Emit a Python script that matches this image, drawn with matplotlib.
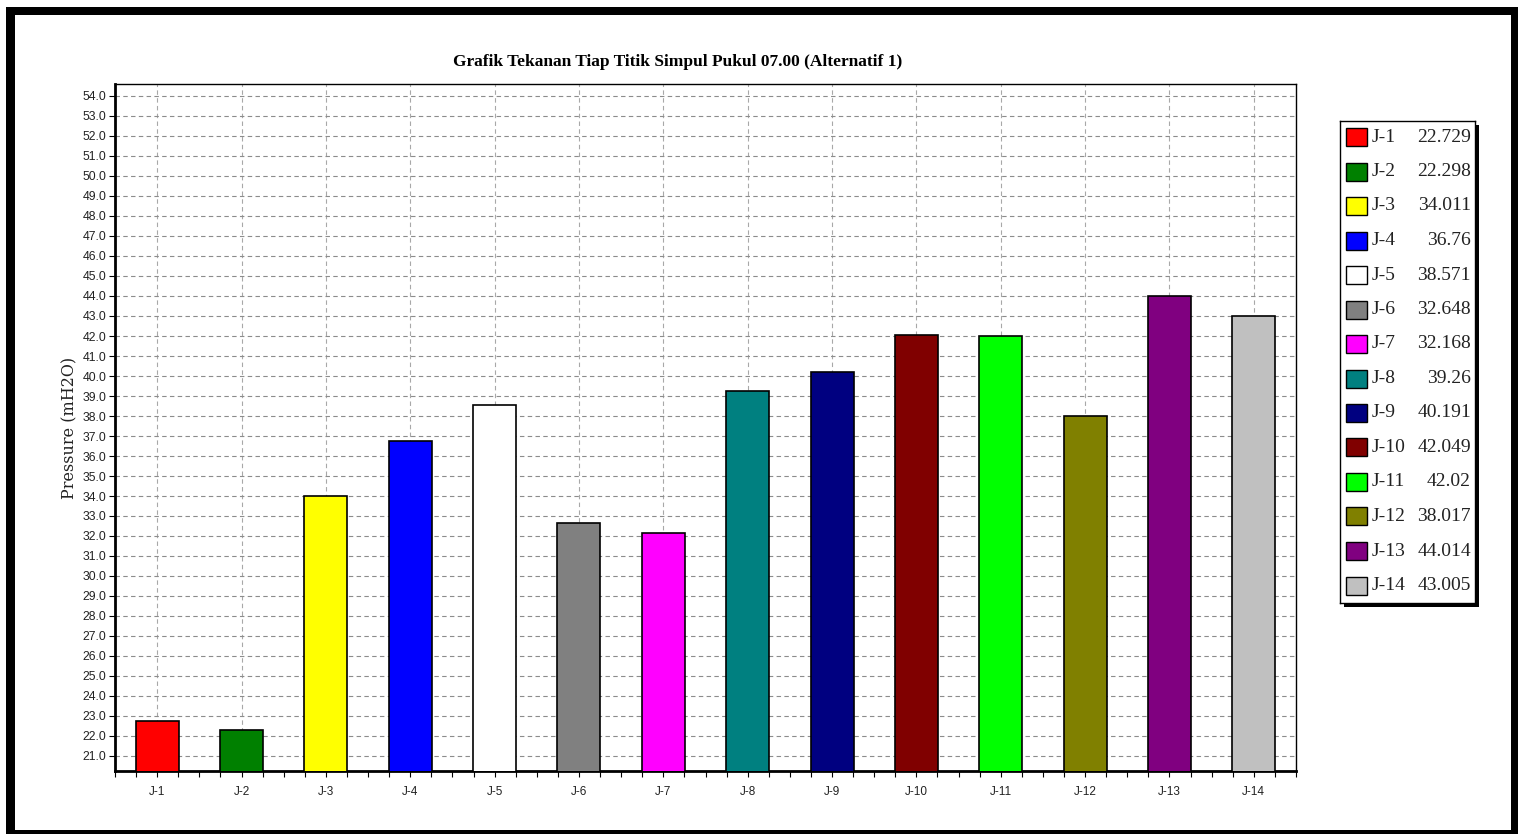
import matplotlib
matplotlib.use("Agg")
import matplotlib.pyplot as plt
from matplotlib.patches import Rectangle
from matplotlib.ticker import MultipleLocator, FormatStrFormatter

W, H = 1518, 834

junctions = ["J-1", "J-2", "J-3", "J-4", "J-5", "J-6", "J-7",
             "J-8", "J-9", "J-10", "J-11", "J-12", "J-13", "J-14"]
pressure = [22.729, 22.298, 34.011, 36.76, 38.571, 32.648, 32.168,
            39.26, 40.191, 42.049, 42.02, 38.017, 44.014, 43.005]
colors = ["#ff0000", "#008000", "#ffff00", "#0000ff", "#ffffff", "#808080", "#ff00ff",
          "#008080", "#000080", "#800000", "#00ff00", "#808000", "#800080", "#c0c0c0"]

fig = plt.figure(figsize=(W / 100, H / 100), dpi=100)
fig.patch.set_facecolor("white")


def px(x0, y0, w, h):
    # pixel box (top-left origin) -> figure fraction rect
    return [x0 / W, 1 - (y0 + h) / H, w / W, h / H]


# outer window frame
for x0, y0, w, h in [(6, 7, W - 6, 8), (6, 7, 9, H - 7), (1511, 7, 7, H - 7), (6, 830, W - 6, 4)]:
    r = px(x0, y0, w, h)
    fig.patches.append(Rectangle((r[0], r[1]), r[2], r[3], transform=fig.transFigure,
                                 facecolor="black", edgecolor="none", zorder=5))

ax = fig.add_axes(px(115, 84, 1181, 687))
x = list(range(len(junctions)))
ax.bar(x, pressure, width=0.51, color=colors, edgecolor="black", linewidth=1.2, zorder=3)

ax.set_xlim(-0.5, len(junctions) - 0.5)
ax.set_ylim(20.25, 54.6)
ax.set_xticks(x)
ax.set_xticklabels(junctions, fontsize=8.5, family="Liberation Sans", color="#222222")
ax.xaxis.set_minor_locator(MultipleLocator(0.25))
ax.set_yticks(list(range(21, 55)))
ax.yaxis.set_major_formatter(FormatStrFormatter("%.1f"))
for lab in ax.get_yticklabels():
    lab.set_fontsize(8.8)
    lab.set_family("Liberation Sans")
    lab.set_color("#222222")
ax.tick_params(axis="both", which="both", direction="out", length=4, width=0.8, pad=2)
ax.tick_params(axis="x", which="major", pad=7)

ax.grid(True, axis="y", linestyle=(0, (4, 3)), color="#8c8c8c", linewidth=0.8, zorder=0)
ax.grid(True, axis="x", linestyle=(0, (4, 3)), color="#a8a8a8", linewidth=0.8, zorder=0)
ax.set_axisbelow(True)
for side in ("left", "bottom"):
    ax.spines[side].set_linewidth(2)
for side in ("top", "right"):
    ax.spines[side].set_linewidth(1)

ax.set_ylabel("Pressure (mH2O)", fontsize=11.5, family="DejaVu Serif", labelpad=3,
              color="#222222")
fig.text(678 / W, 1 - 62 / H, "Grafik Tekanan Tiap Titik Simpul Pukul 07.00 (Alternatif 1)",
         fontsize=12.5, family="Liberation Serif", fontweight="bold", ha="center", va="center")

# legend panel with shadow
sh = px(1344, 125, 135, 482)
fig.patches.append(Rectangle((sh[0], sh[1]), sh[2], sh[3], transform=fig.transFigure,
                             facecolor="black", edgecolor="none", zorder=1))
lg = fig.add_axes(px(1340, 121, 135, 482))
lg.set_zorder(2)
lg.set_xlim(0, 135)
lg.set_ylim(482, 0)
lg.set_xticks([])
lg.set_yticks([])
lg.set_facecolor("white")
for s in lg.spines.values():
    s.set_linewidth(1)
for i, (name, val, c) in enumerate(zip(junctions, pressure, colors)):
    yc = 16 + i * 34.5
    lg.add_patch(Rectangle((6, yc - 9), 21, 18, facecolor=c, edgecolor="black", linewidth=1))
    lg.text(32, yc, name, fontsize=14, family="Liberation Serif",
            va="center", ha="left", color="#222222")
    lg.text(131, yc, f"{val:g}", fontsize=14, family="Liberation Serif", va="center",
            ha="right", color="#222222")

fig.savefig("out.png", dpi=100)
